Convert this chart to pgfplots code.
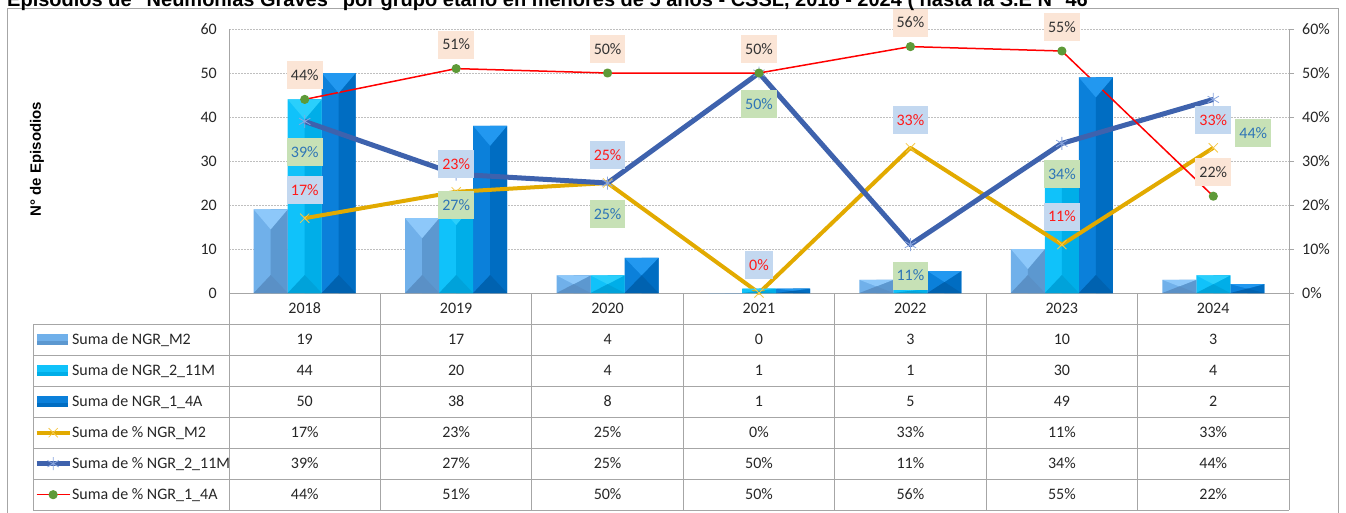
\documentclass[border=0pt]{standalone}
\usepackage{fontspec}
\setmainfont{Carlito}
\newfontfamily\arial{Liberation Sans}
\usepackage{pgfplots}
\usepackage{pgfplotstable}
\pgfplotsset{compat=1.18}
\definecolor{m2L}{HTML}{70B0EA}
\definecolor{m2R}{HTML}{5C98D0}
\definecolor{m2T}{HTML}{8DC8FA}
\definecolor{m2B}{HTML}{5A90C6}
\definecolor{m11L}{HTML}{10C2FA}
\definecolor{m11R}{HTML}{00AEE8}
\definecolor{m11T}{HTML}{2ACFFC}
\definecolor{m11B}{HTML}{00A2DA}
\definecolor{a14L}{HTML}{0B80DA}
\definecolor{a14R}{HTML}{006DC2}
\definecolor{a14T}{HTML}{2298F0}
\definecolor{a14B}{HTML}{0062B0}
\definecolor{gold}{HTML}{E2AA00}
\definecolor{goldlt}{HTML}{F5C84A}
\definecolor{navy}{HTML}{3E62AD}
\definecolor{navylt}{HTML}{8AA6DE}
\definecolor{dotg}{HTML}{5E9A38}
\definecolor{peach}{HTML}{FBE5D6}
\definecolor{lblue}{HTML}{C3D8F0}
\definecolor{lgreen}{HTML}{C7E1B6}
\definecolor{txtblue}{HTML}{2E75B6}
\definecolor{txtred}{HTML}{FF1A1A}
\definecolor{gridc}{HTML}{BFBFBF}
\definecolor{linec}{HTML}{A6A6A6}

\pgfplotstableread{
x    m2 m11 a14 pm2 pm11 pa14
2018 19 44  50  17  39   44
2019 17 20  38  23  27   51
2020 4  4   8   25  25   50
2021 0  1   1   0   50   50
2022 3  1   5   33  11   56
2023 10 30  49  11  34   55
2024 3  4   2   33  44   22
}\data

% bevel mark: light top triangle and dark bottom triangle of a 34pt bar
\pgfdeclareplotmark{bev}{%
  \pgfpathmoveto{\pgfqpoint{-17pt}{0pt}}%
  \pgfpathlineto{\pgfqpoint{17pt}{0pt}}%
  \pgfpathlineto{\pgfpoint{0pt}{-\bevt pt}}%
  \pgfpathclose
  \pgfsetfillcolor{\bevTop}\pgfusepathqfill
  \pgfpathmoveto{\pgfpoint{-17pt}{-\bevh pt}}%
  \pgfpathlineto{\pgfpoint{17pt}{-\bevh pt}}%
  \pgfpathlineto{\pgfpoint{0pt}{\bevc pt}}%
  \pgfpathclose
  \pgfsetfillcolor{\bevBot}\pgfusepathqfill
}

\pgfplotsset{
  legbar/.style 2 args={legend image code/.code={%
    \fill[#1] (0pt,-5.5pt) rectangle (31pt,5.5pt);
    \fill[#2] (0pt,-5.5pt) rectangle (31pt,-1.5pt);}},
  legline/.style={legend image code/.code={%
    \draw[mark repeat=2,mark phase=2,##1] plot coordinates {(0pt,0pt) (16.5pt,0pt) (33pt,0pt)};}},
  bevel/.style n args={3}{only marks, forget plot, scatter, mark=bev,
    mark options={xshift=#1},
    visualization depends on={y \as \hv},
    scatter/@pre marker code/.code={%
      \def\bevTop{#2}\def\bevBot{#3}%
      \pgfmathsetmacro\bevh{4.4*\hv}%
      \pgfmathsetmacro\bevt{min(20,0.5*\bevh)}%
      \pgfmathsetmacro\bevc{min(18,0.5*\bevh)-\bevh}},
    scatter/@post marker code/.code={}},
}
\tikzset{lab/.style={font=\fontsize{16}{19}\selectfont, inner xsep=4pt, inner ysep=0pt, minimum height=28pt, anchor=center}}

\begin{document}
\begin{tikzpicture}
\begin{axis}[
  at={(229pt,-293pt)}, anchor=south west,
  scale only axis, width=1060pt, height=264pt,
  xmin=2017.5, xmax=2024.5, ymin=0, ymax=60,
  xtick={2018,...,2024}, ytick={0,10,...,60},
  /pgf/number format/assume math mode=true,
  /pgf/number format/1000 sep={},
  axis x line*=bottom, axis y line*=left,
  axis line style={draw=linec, line width=0.8pt, -},
  tick style={draw=none},
  ymajorgrids, grid style={draw=gridc, dash pattern=on 2pt off 1pt, line width=0.6pt},
  tick label style={font=\fontsize{16}{19}\selectfont, text=black!85},
  yticklabel style={inner sep=0pt, xshift=-12pt},
  xticklabel style={anchor=center, inner sep=0pt, yshift=-15.5pt},
  ylabel={N° de Episodios},
  ylabel style={at={(axis description cs:-0.1811,0.5076)}, anchor=center,
    font=\arial\bfseries\fontsize{15}{18}\selectfont},
  clip=false,
  legend style={at={(axis description cs:-0.1840,-0.1174)}, anchor=north west,
    draw=none, fill=none, inner sep=0pt, row sep=0pt,
    font=\fontsize{16}{19}\selectfont,
    nodes={inner sep=0pt, minimum height=31pt, text=black!85},
    /tikz/every odd column/.append style={column sep=0pt}},
  legend cell align=left,
]
% bars
\addplot[ybar, bar width=34pt, bar shift=-34pt, fill=m2L, draw=none, legbar={m2L}{m2R}] table[x=x,y=m2]{\data};
\addlegendentry{Suma de NGR\_M2}
\addplot[ybar, bar width=34pt, bar shift=0pt, fill=m11L, draw=none, legbar={m11L}{m11R}] table[x=x,y=m11]{\data};
\addlegendentry{Suma de NGR\_2\_11M}
\addplot[ybar, bar width=34pt, bar shift=34pt, fill=a14L, draw=none, legbar={a14L}{a14R}] table[x=x,y=a14]{\data};
\addlegendentry{Suma de NGR\_1\_4A}
\addplot[ybar, bar width=17pt, bar shift=-25.5pt, fill=m2R, draw=none, forget plot] table[x=x,y=m2]{\data};
\addplot[ybar, bar width=17pt, bar shift=8.5pt, fill=m11R, draw=none, forget plot] table[x=x,y=m11]{\data};
\addplot[ybar, bar width=17pt, bar shift=42.5pt, fill=a14R, draw=none, forget plot] table[x=x,y=a14]{\data};
\addplot[bevel={-34pt}{m2T}{m2B}] table[x=x,y=m2]{\data};
\addplot[bevel={0pt}{m11T}{m11B}] table[x=x,y=m11]{\data};
\addplot[bevel={34pt}{a14T}{a14B}] table[x=x,y=a14]{\data};
% lines
\addplot[gold, line width=4pt, line join=round, mark=x, mark size=6.5pt,
  mark options={draw=goldlt, line width=0.8pt}, legline] table[x=x,y=pm2]{\data};
\addlegendentry{Suma de \% NGR\_M2}
\addplot[navy, line width=5pt, line join=round, mark=asterisk, mark size=6.5pt,
  mark options={draw=navylt, line width=0.8pt}, legline] table[x=x,y=pm11]{\data};
\addlegendentry{Suma de \% NGR\_2\_11M}
\addplot[red, line width=1.5pt, line join=round, mark=*, mark size=3.8pt,
  mark options={fill=dotg, draw=dotg}, legline] table[x=x,y=pa14]{\data};
\addlegendentry{Suma de \% NGR\_1\_4A}
% labels
\addplot[draw=none, forget plot, nodes near coords={\pgfmathprintnumber{\pgfplotspointmeta}\%},
  every node near coord/.style={lab, fill=peach, text=black!80, yshift=24pt}] table[x=x,y=pa14]{\data};
\addplot[draw=none, forget plot, nodes near coords={\pgfmathprintnumber{\pgfplotspointmeta}\%},
  every node near coord/.style={lab, fill=lblue, text=txtred, yshift=28pt}] table[x=x,y=pm2]{\data};
\addplot[draw=none, forget plot, restrict x to domain=2017.5:2023.5,
  nodes near coords={\pgfmathprintnumber{\pgfplotspointmeta}\%},
  every node near coord/.style={lab, fill=lgreen, text=txtblue, yshift=-31pt}] table[x=x,y=pm11]{\data};
\addplot[draw=none, forget plot, restrict x to domain=2023.5:2024.5,
  nodes near coords={\pgfmathprintnumber{\pgfplotspointmeta}\%},
  every node near coord/.style={lab, fill=lgreen, text=txtblue, xshift=40pt, yshift=-34pt}] table[x=x,y=pm11]{\data};
\end{axis}
\begin{axis}[
  at={(229pt,-293pt)}, anchor=south west,
  scale only axis, width=1060pt, height=264pt,
  xmin=2017.5, xmax=2024.5, ymin=0, ymax=60,
  /pgf/number format/assume math mode=true,
  axis x line=none, axis y line*=right,
  axis line style={draw=linec, line width=0.8pt, -},
  ytick={0,10,...,60}, yticklabel={\pgfmathprintnumber{\tick}\%},
  tick align=outside, major tick length=5pt,
  tick style={draw=linec, line width=0.8pt},
  tick label style={font=\fontsize{16}{19}\selectfont, text=black!85},
  yticklabel style={inner sep=0pt, xshift=8pt},
]
\end{axis}
% table grid
\begin{scope}[draw=linec, line width=0.8pt]
  \foreach \yy in {324,355,...,510} \draw (33pt,-\yy pt) -- (1289pt,-\yy pt);
  \draw (33pt,-324pt) -- (33pt,-510pt);
  \foreach \k in {0,...,7} {\pgfmathsetmacro\xx{229+151.4286*\k}
    \draw (\xx pt,-293pt) -- (\xx pt,-510pt);}
  \draw (7pt,-540pt) -- (7pt,-8pt) -- (1338pt,-8pt) -- (1338pt,-540pt);
\end{scope}
\foreach \c [count=\r from 0] in {m2,m11,a14,pm2,pm11,pa14} {
  \foreach \i in {0,...,6} {
    \pgfplotstablegetelem{\i}{\c}\of\data
    \pgfmathsetmacro\xx{304.714+151.4286*\i}
    \pgfmathsetmacro\yy{339.5+31*\r}
    \node[font=\fontsize{16}{19}\selectfont, text=black!85, inner sep=0pt] at (\xx pt,-\yy pt) {\pgfplotsretval\ifnum\r>2\%\fi};
  }
}
\node[anchor=base west, inner sep=0pt, font=\arial\bfseries\fontsize{20}{24}\selectfont] at (7pt,-7pt)
  {Episodios de "Neumonías Graves" por grupo etario en menores de 5 años - CSSL, 2018 - 2024 ( hasta la S.E N° 46};
\pgfresetboundingbox
\useasboundingbox (0pt,0pt) rectangle (1346pt,-513pt);
\end{tikzpicture}
\end{document}
